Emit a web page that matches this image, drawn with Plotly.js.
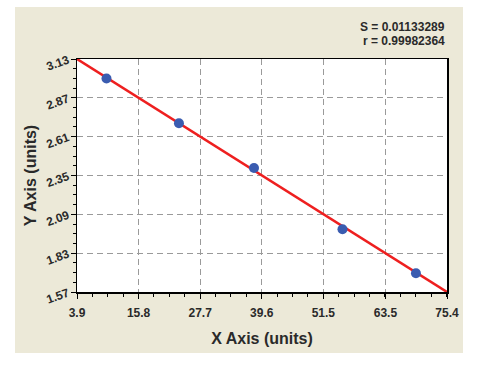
<!DOCTYPE html>
<html>
<head>
<meta charset="utf-8">
<script src="https://cdn.plot.ly/plotly-3.0.1.min.js"></script>
<style>
html,body{margin:0;padding:0;background:#ffffff;width:478px;height:370px;overflow:hidden;}
#chart{position:absolute;left:15px;top:7px;width:448px;height:346px;}
</style>
</head>
<body>
<div id="chart"></div>
<script>
const pointX = [9.6, 23.6, 38.1, 55.2, 69.4];
const pointY = [3.00, 2.70, 2.40, 1.99, 1.695];
const fitX = [3.9, 75.4];
const fitY = [3.13, 1.57];
const xTicks = [3.9, 15.8, 27.7, 39.6, 51.5, 63.5, 75.4];
const xTickLabels = ['3.9', '15.8', '27.7', '39.6', '51.5', '63.5', '75.4'];
const yTicks = [1.57, 1.83, 2.09, 2.35, 2.61, 2.87, 3.13];
const yTickLabels = ['1.57', '1.83', '2.09', '2.35', '2.61', '2.87', '3.13'];
const statLines = ['S = 0.01133289', 'r = 0.99982364'];

const tickFont = {family: 'Liberation Sans, Arial, sans-serif', size: 12, color: '#2a2a2a', weight: 'bold'};
const statFont = {family: 'Liberation Sans, Arial, sans-serif', size: 12, color: '#2a2a2a', weight: 'bold'};
const titleFont = {family: 'Liberation Sans, Arial, sans-serif', size: 16, color: '#2a2a2a', weight: 'bold'};

const traces = [
  {x: fitX, y: fitY, mode: 'lines', line: {color: '#ee1f1f', width: 2.5}, hoverinfo: 'skip'},
  {x: pointX, y: pointY, mode: 'markers', marker: {color: '#3a5cb0', size: 10, symbol: 'circle'}}
];

const layout = {
  width: 448, height: 346,
  margin: {l: 62, r: 16, t: 52, b: 61},
  paper_bgcolor: '#ece9d8',
  plot_bgcolor: '#ffffff',
  showlegend: false,
  xaxis: {
    range: [3.9, 75.4], tickmode: 'array', tickvals: xTicks, ticktext: xTickLabels,
    showline: true, linecolor: '#000000', linewidth: 1.5, mirror: true,
    ticks: 'outside', ticklen: 5, tickcolor: '#000000', ticklabelstandoff: 4,
    minor: {ticks: 'outside', ticklen: 3, tickcolor: '#000000', dtick: 2.975, tick0: 3.9, showgrid: false},
    showgrid: true, gridcolor: '#9a9a9a', griddash: '6px,4px', gridwidth: 1,
    zeroline: false, tickfont: tickFont,
    title: {text: 'X Axis (units)', font: titleFont, standoff: 14}
  },
  yaxis: {
    range: [1.57, 3.13], tickmode: 'array', tickvals: yTicks, ticktext: yTickLabels,
    showline: true, linecolor: '#000000', linewidth: 1.5, mirror: true,
    ticks: 'outside', ticklen: 5, tickcolor: '#000000',
    minor: {ticks: 'outside', ticklen: 3, tickcolor: '#000000', dtick: 0.065, tick0: 1.57, showgrid: false},
    showgrid: true, gridcolor: '#9a9a9a', griddash: '6px,4px', gridwidth: 1,
    zeroline: false, tickfont: tickFont, tickangle: -20,
    title: {text: 'Y Axis (units)', font: titleFont, standoff: 4}
  },
  annotations: [
    {xref: 'paper', yref: 'paper', x: 1, y: 1, yshift: 32, xanchor: 'right', yanchor: 'middle', showarrow: false,
     text: statLines[0], font: statFont},
    {xref: 'paper', yref: 'paper', x: 1, y: 1, yshift: 18, xanchor: 'right', yanchor: 'middle', showarrow: false,
     text: statLines[1], font: statFont}
  ]
};

Plotly.newPlot('chart', traces, layout, {displayModeBar: false, staticPlot: true});
</script>
</body>
</html>
